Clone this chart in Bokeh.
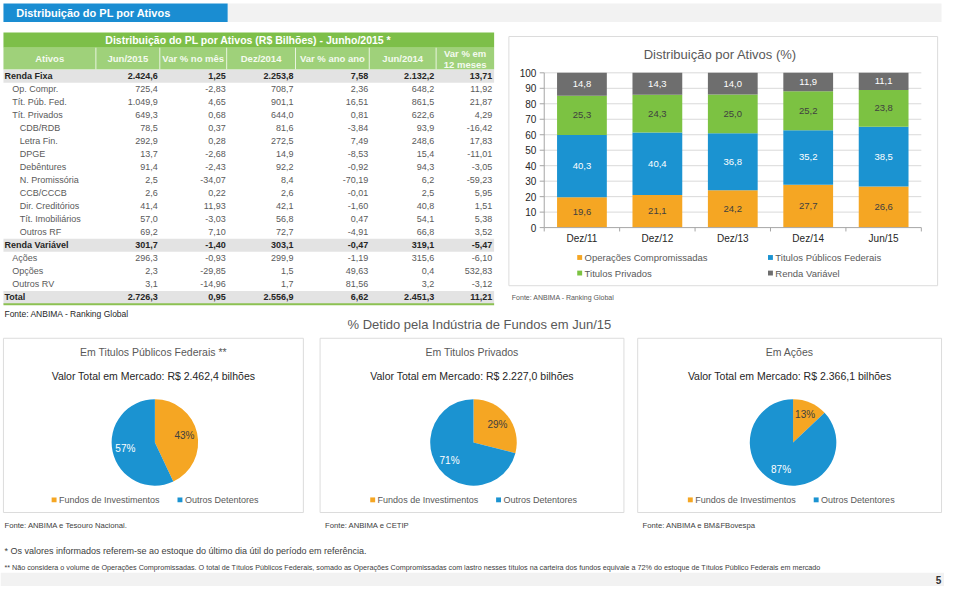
from bokeh.plotting import figure
from bokeh.models import Range1d, ColumnDataSource
from bokeh.core.properties import value
from bokeh.embed import file_html
from bokeh.resources import INLINE
import numpy as np

# ---------------- data ----------------
table_title = "Distribuição do PL por Ativos (R$ Bilhões) - Junho/2015 *"
col_headers = ["Ativos", "Jun/2015", "Var % no mês", "Dez/2014", "Var % ano ano", "Jun/2014", "Var % em|12 meses"]
row_names = ["Renda Fixa", "Op. Compr.", "Tít. Púb. Fed.", "Tít. Privados", "CDB/RDB", "Letra Fin.", "DPGE",
             "Debêntures", "N. Promissória", "CCB/CCCB", "Dir. Creditórios", "Tít. Imobiliários", "Outros RF",
             "Renda Variável", "Ações", "Opções", "Outros RV", "Total"]
row_levels = [0, 1, 1, 1, 2, 2, 2, 2, 2, 2, 2, 2, 2, 0, 1, 1, 1, 0]
jun15 = [2424.6, 725.4, 1049.9, 649.3, 78.5, 292.9, 13.7, 91.4, 2.5, 2.6, 41.4, 57.0, 69.2, 301.7, 296.3, 2.3, 3.1, 2726.3]
var_mes = [1.25, -2.83, 4.65, 0.68, 0.37, 0.28, -2.68, -2.43, -34.07, 0.22, 11.93, -3.03, 7.10, -1.40, -0.93, -29.85, -14.96, 0.95]
dez14 = [2253.8, 708.7, 901.1, 644.0, 81.6, 272.5, 14.9, 92.2, 8.4, 2.6, 42.1, 56.8, 72.7, 303.1, 299.9, 1.5, 1.7, 2556.9]
var_ano = [7.58, 2.36, 16.51, 0.81, -3.84, 7.49, -8.53, -0.92, -70.19, -0.01, -1.60, 0.47, -4.91, -0.47, -1.19, 49.63, 81.56, 6.62]
jun14 = [2132.2, 648.2, 861.5, 622.6, 93.9, 248.6, 15.4, 94.3, 6.2, 2.5, 40.8, 54.1, 66.8, 319.1, 315.6, 0.4, 3.2, 2451.3]
var_12m = [13.71, 11.92, 21.87, 4.29, -16.42, 17.83, -11.01, -3.05, -59.23, 5.95, 1.51, 5.38, 3.52, -5.47, -6.10, 532.83, -3.12, 11.21]

bar_title = "Distribuição por Ativos (%)"
bar_periods = ["Dez/11", "Dez/12", "Dez/13", "Dez/14", "Jun/15"]
bar_series = ["Operações Compromissadas", "Titulos Públicos Federais", "Titulos Privados", "Renda Variável"]
op_compr = [19.6, 21.1, 24.2, 27.7, 26.6]
tit_pub = [40.3, 40.4, 36.8, 35.2, 38.5]
tit_priv = [25.3, 24.3, 25.0, 25.2, 23.8]
renda_var = [14.8, 14.3, 14.0, 11.9, 11.1]
bar_ticks = [0, 10, 20, 30, 40, 50, 60, 70, 80, 90, 100]

pie_titles = ["Em Titulos Públicos Federais **", "Em Titulos Privados", "Em Ações"]
pie_totals = ["Valor Total em Mercado: R$ 2.462,4 bilhões", "Valor Total em Mercado: R$ 2.227,0 bilhões",
              "Valor Total em Mercado: R$ 2.366,1 bilhões"]
pie_fundos = [43, 29, 13]
pie_outros = [57, 71, 87]
pie_legend = ["Fundos de Investimentos", "Outros Detentores"]
pie_sources = ["Fonte: ANBIMA e Tesouro Nacional.", "Fonte:  ANBIMA  e CETIP", "Fonte:  ANBIMA e BM&FBovespa"]

# ---------------- styles ----------------
FONT = value("Liberation Sans")
ORANGE, BLUE, GREEN, GRAY = "#f5a623", "#1b93d1", "#7cc242", "#6e6e6e"
DARK, MID = "#262626", "#595959"

W, H = 960, 602
p = figure(width=944, height=586, x_range=Range1d(0, W), y_range=Range1d(H, 0),
           output_backend="svg", toolbar_location=None, min_border=0,
           x_axis_location=None, y_axis_location=None)
p.grid.visible = False
p.outline_line_color = None
p.background_fill_color = "white"
p.border_fill_color = "white"

# bar chart scales (calibrated to the chart area)
BX0, BDX = 591.3, 76.7          # centre of first bar, spacing
BY0, BDY = 233.3, 1.59          # baseline, px per unit
p.extra_x_ranges = {"bx": Range1d((0 - BX0) / BDX, (W - BX0) / BDX)}
p.extra_y_ranges = {"by": Range1d((BY0 - H) / BDY, BY0 / BDY)}


def txt(x, y, s, size, color=DARK, align="left", style="normal", baseline="middle", **kw):
    if not isinstance(x, (list, tuple, np.ndarray)):
        x, y, s = [x], [y], [s]
    p.text(x=list(x), y=list(y), text=list(s), text_font=FONT, text_font_size=value(size),
           text_color=color, text_align=align, text_font_style=style, text_baseline=baseline, **kw)


def box(l, r, t, b, fill=None, line=None, lw=1):
    p.quad(left=[l], right=[r], top=[t], bottom=[b], fill_color=fill if fill else "white",
           fill_alpha=1 if fill else 0, line_color=line, line_width=lw)


# ---------------- page header ----------------
box(231, 957, 3, 22, fill="#f2f2f2")
box(3, 231, 3, 22, fill="#1a8dd2")
txt(16, 12.5, "Distribuição do PL por Ativos", "11px", "white", style="bold")

# ---------------- table ----------------
box(3, 502, 33, 48.5, fill="#7dbf49")
txt(252, 41, table_title, "10.5px", "white", align="center", style="bold")
box(3, 502, 48.5, 71, fill="#9fd17a")
col_edges = [3, 97, 162, 230, 300, 375, 443, 502]
for xe in col_edges[1:-1]:
    p.segment(x0=[xe], y0=[48.5], x1=[xe], y1=[71], line_color="#e8f4df", line_width=1)
for i, h in enumerate(col_headers):
    cx = (col_edges[i] + col_edges[i + 1]) / 2
    parts = h.split("|")
    if len(parts) == 1:
        txt(cx, 60, parts[0], "9.5px", "#f4faef", align="center", style="bold")
    else:
        txt(cx, 54, parts[0], "9.5px", "#f4faef", align="center", style="bold")
        txt(cx, 66, parts[1], "9.5px", "#f4faef", align="center", style="bold")


def br(v, d):
    s = f"{v:,.{d}f}"
    return s.replace(",", "X").replace(".", ",").replace("X", ".")


ROW0, RSTEP = 77.7, 13.37
cols = [(jun15, 1, 160), (var_mes, 2, 229), (dez14, 1, 298), (var_ano, 2, 374), (jun14, 1, 441), (var_12m, 2, 500)]
indent = {0: 4, 1: 12, 2: 19.5}
for i, name in enumerate(row_names):
    y = ROW0 + RSTEP * i
    bold = row_levels[i] == 0
    if bold:
        box(3, 502, y - RSTEP / 2, y + RSTEP / 2, fill="#e3e3e3")
    color = DARK if bold else "#5a5a5a"
    style = "bold" if bold else "normal"
    txt(indent[row_levels[i]], y, name, "9px", color, style=style)
    for arr, d, xr in cols:
        txt(xr, y, br(arr[i], d), "9px", color, align="right", style=style)
p.segment(x0=[3], y0=[312], x1=[502], y1=[312], line_color="#8cc152", line_width=2)
txt(4, 322, "Fonte: ANBIMA - Ranking Global", "8.5px", DARK)

# ---------------- stacked bar chart ----------------
box(517, 953, 37, 293, line="#dcdcdc")
txt(732, 55, bar_title, "13px", MID, align="center")

xs = list(range(len(bar_periods)))
p.segment(x0=[-0.5] * 10, y0=bar_ticks[1:], x1=[4.5] * 10, y1=bar_ticks[1:], line_color="#d9d9d9",
          line_width=1, x_range_name="bx", y_range_name="by")

series = [op_compr, tit_pub, tit_priv, renda_var]
colors = [ORANGE, BLUE, GREEN, GRAY]
lab_colors = ["#404040", "white", "#404040", "white"]
bottoms = np.zeros(len(bar_periods))
for vals, c, lc in zip(series, colors, lab_colors):
    tops = bottoms + np.array(vals)
    src = ColumnDataSource(dict(x=xs, bottom=bottoms, top=tops, mid=(bottoms + tops) / 2,
                                lab=[f"{v:.1f}".replace(".", ",") for v in vals]))
    p.vbar(x="x", width=0.66, bottom="bottom", top="top", source=src, fill_color=c, line_color=None,
           x_range_name="bx", y_range_name="by")
    p.text(x="x", y="mid", text="lab", source=src, text_font=FONT, text_font_size=value("9.5px"),
           text_color=lc, text_align="center", text_baseline="middle", x_range_name="bx", y_range_name="by")
    bottoms = tops

# axes
p.segment(x0=[-0.5], y0=[0], x1=[-0.5], y1=[100], line_color="#a6a6a6", x_range_name="bx", y_range_name="by")
p.segment(x0=[-0.5], y0=[0], x1=[4.5], y1=[0], line_color="#a6a6a6", x_range_name="bx", y_range_name="by")
p.segment(x0=[-0.5] * 11, y0=bar_ticks, x1=[-0.56] * 11, y1=bar_ticks, line_color="#a6a6a6",
          x_range_name="bx", y_range_name="by")
bnd = [-0.5 + k for k in range(6)]
p.segment(x0=bnd, y0=[0] * 6, x1=bnd, y1=[-2.5] * 6, line_color="#a6a6a6", x_range_name="bx", y_range_name="by")
p.text(x=[545] * 11, y=bar_ticks, text=[str(t) for t in bar_ticks], text_font=FONT,
       text_font_size=value("10px"), text_color=DARK, text_align="right", text_baseline="middle",
       y_range_name="by")
p.text(x=xs, y=[244] * 5, text=bar_periods, text_font=FONT, text_font_size=value("10px"),
       text_color=DARK, text_align="center", text_baseline="middle", x_range_name="bx")

# legend
leg_pos = [(589, 264), (783, 264), (589, 280), (783, 280)]
for (lx, ly), name, c in zip(leg_pos, bar_series, colors):
    box(lx - 2.5, lx + 2.5, ly - 2.5, ly + 2.5, fill=c)
    txt(lx + 5, ly, name, "9.5px", MID)
txt(520, 305, "Fonte: ANBIMA - Ranking Global", "7px", MID)

# ---------------- pies ----------------
txt(487, 333, "% Detido pela Indústria de Fundos em Jun/15", "13px", MID, align="center")
boxes = [(3, 308), (325, 634), (648, 957)]
pie_cx = [157, 481, 806]
PY, PR = 454, 44
for k in range(3):
    l, r = boxes[k]
    bc = (l + r) / 2
    box(l, r, 347, 526, line="#dcdcdc")
    txt(bc, 361, pie_titles[k], "10.5px", MID, align="center")
    txt(bc, 386, pie_totals[k], "10.5px", DARK, align="center")
    f = pie_fundos[k] / 100.0
    o = pie_outros[k] / 100.0
    a_top = np.pi / 2
    p.wedge(x=[pie_cx[k]], y=[PY], radius=PR, start_angle=[a_top - 2 * np.pi * f], end_angle=[a_top],
            direction="anticlock", fill_color=ORANGE, line_color=None)
    p.wedge(x=[pie_cx[k]], y=[PY], radius=PR, start_angle=[a_top], end_angle=[a_top + 2 * np.pi * o],
            direction="anticlock", fill_color=BLUE, line_color=None)
    m_f = a_top - np.pi * f
    m_o = a_top - 2 * np.pi * f - np.pi * o
    lr = 0.7 * PR
    txt(pie_cx[k] + lr * np.cos(m_f), PY - lr * np.sin(m_f), f"{pie_fundos[k]}%", "10px", "#404040", align="center")
    txt(pie_cx[k] + lr * np.cos(m_o), PY - lr * np.sin(m_o), f"{pie_outros[k]}%", "10px", "white", align="center")
    # legend
    box(bc - 103.5, bc - 98.5, 510.5, 515.5, fill=ORANGE)
    txt(bc - 96, 513, pie_legend[0], "9px", MID)
    box(bc + 24.5, bc + 29.5, 510.5, 515.5, fill=BLUE)
    txt(bc + 32, 513, pie_legend[1], "9px", MID)
    txt(l + 1 if k == 0 else l + 5, 539, pie_sources[k], "7.7px", "#404040")

# ---------------- footnotes ----------------
txt(4, 566, "* Os valores informados referem-se ao estoque do último dia útil do período em referência.",
    "9px", "#404040")
txt(4, 582, "** Não considera o volume de Operações Compromissadas.  O total de Títulos Públicos Federais, "
            "somado as Operações Compromissadas com lastro nesses títulos na carteira dos fundos equivale a 72% "
            "do estoque de Títulos Público Federais em mercado", "7.2px", "#404040")
box(0, 960, 588, 602, fill="#f2f2f2")
txt(954, 595, "5", "10px", "#333333", align="center", style="bold")

open("out.html", "w").write(file_html(p, INLINE))
